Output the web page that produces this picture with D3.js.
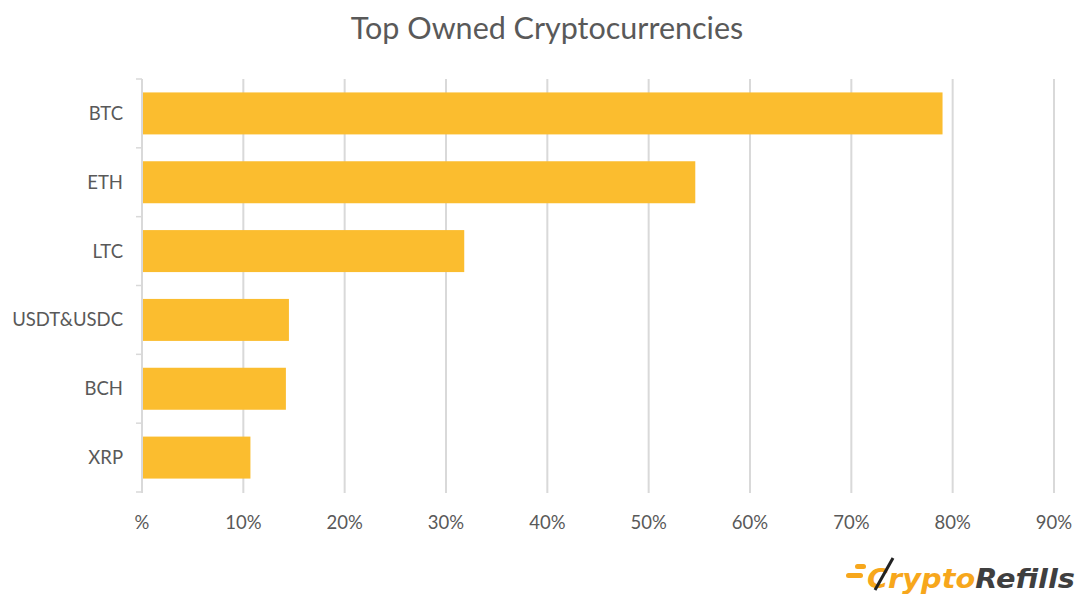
<!DOCTYPE html>
<html>
<head>
<meta charset="utf-8">
<script src="https://d3js.org/d3.v7.min.js"></script>
<style>
  body { margin: 0; background: #ffffff; }
  svg text { font-family: Lato, "Open Sans", sans-serif; }
</style>
</head>
<body>
<svg width="1080" height="596"></svg>
<script>
// chart data
var coins = ["BTC", "ETH", "LTC", "USDT&USDC", "BCH", "XRP"];
var shares = [79, 54.6, 31.8, 14.5, 14.2, 10.7];
var tickVals = [0, 10, 20, 30, 40, 50, 60, 70, 80, 90];
var tickText = ["%", "10%", "20%", "30%", "40%", "50%", "60%", "70%", "80%", "90%"];

var svg = d3.select("svg");
var textColor = "#595959";
var barColor = "#FBBD2F";

var xs = d3.scaleLinear().domain([0, 90]).range([142, 1054]);
var ys = d3.scaleBand().domain(coins).range([79, 492]).paddingInner(0.39).paddingOuter(0.195);

// title
svg.append("text")
  .attr("x", 547).attr("y", 39)
  .attr("text-anchor", "middle")
  .style("font-size", "30.5px")
  .style("fill", textColor)
  .text("Top Owned Cryptocurrencies");

// gridlines
svg.append("g").selectAll("line").data(tickVals.slice(1)).enter().append("line")
  .attr("x1", d => xs(d)).attr("x2", d => xs(d))
  .attr("y1", 79).attr("y2", 493)
  .attr("stroke", "#d9d9d9").attr("stroke-width", 2);

// bars
svg.append("g").selectAll("rect").data(coins).enter().append("rect")
  .attr("x", xs(0) + 1)
  .attr("y", d => ys(d))
  .attr("width", (d, i) => xs(shares[i]) - xs(0) - 1)
  .attr("height", ys.bandwidth())
  .attr("fill", barColor);

// category axis line and band ticks
var bounds = d3.range(coins.length + 1).map(i => 79 + i * (413 / coins.length));
svg.append("line")
  .attr("x1", 142).attr("x2", 142).attr("y1", 79).attr("y2", 493)
  .attr("stroke", "#d9d9d9").attr("stroke-width", 2);
svg.append("g").selectAll("line").data(bounds).enter().append("line")
  .attr("x1", 136).attr("x2", 142)
  .attr("y1", d => d).attr("y2", d => d)
  .attr("stroke", "#d9d9d9").attr("stroke-width", 1.5);

// category labels
svg.append("g").selectAll("text").data(coins).enter().append("text")
  .attr("x", 123)
  .attr("y", d => ys(d) + ys.bandwidth() / 2)
  .attr("dy", "0.35em")
  .attr("text-anchor", "end")
  .style("font-size", "18.5px")
  .style("fill", textColor)
  .text(d => d);

// value axis labels
svg.append("g").selectAll("text").data(tickVals).enter().append("text")
  .attr("x", d => xs(d))
  .attr("y", 529)
  .attr("text-anchor", "middle")
  .style("font-size", "18.5px")
  .style("fill", textColor)
  .text((d, i) => tickText[i]);

// logo
var logo = svg.append("g");
logo.append("rect").attr("x", 855).attr("y", 564).attr("width", 11).attr("height", 5).attr("rx", 2.5).attr("fill", "#F7A71C");
logo.append("rect").attr("x", 846).attr("y", 573).attr("width", 17).attr("height", 5).attr("rx", 2.5).attr("fill", "#F7A71C");
logo.append("text")
  .attr("x", 867).attr("y", 588)
  .attr("textLength", 208).attr("lengthAdjust", "spacingAndGlyphs")
  .style("font-family", "'DejaVu Sans', sans-serif")
  .style("font-size", "26px").style("font-weight", "bold").style("font-style", "italic")
  .style("fill", "#F7A71C")
  .text("Crypto")
  .append("tspan").style("fill", "#3f3f3f").text("Refills");
logo.append("line")
  .attr("x1", 893).attr("y1", 558).attr("x2", 875).attr("y2", 590)
  .attr("stroke", "#222").attr("stroke-width", 3);
</script>
</body>
</html>
